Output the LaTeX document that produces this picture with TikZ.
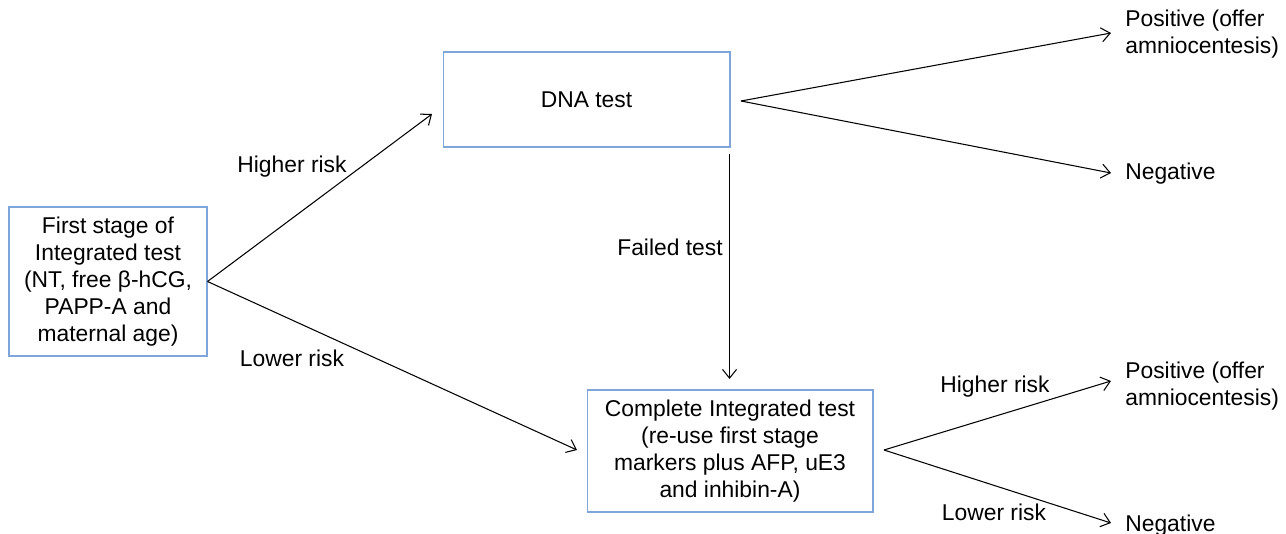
\documentclass[tikz,border=0pt]{standalone}
\usepackage{fontspec}
\setmainfont{Liberation Sans}
\usepackage{xcolor}
\usepackage{tikz}
\usetikzlibrary{arrows.meta}
\definecolor{boxblue}{HTML}{7EA6D8}
\tikzstyle{stagebox} = [draw=boxblue,line width=0.6pt,align=center,inner sep=0pt]
\tikzstyle{arrow} = [line width=0.6pt,-{Straight Barb[length=5pt,width=8pt]}]
\tikzstyle{lbl} = [align=center,inner sep=1pt]
\tikzstyle{outcome} = [align=left,anchor=west,inner sep=0pt]

\begin{document}
\begin{tikzpicture}[
            x=0.02cm, y=-0.02cm,
            font=\fontsize{13}{15.4}\selectfont
        ]
            \useasboundingbox (0,0) rectangle (1286,534);

            % boxes
            \node[stagebox, minimum width=3.96cm, minimum height=2.98cm] (first) at (108,281.5)
                {First stage of\\Integrated test\\(NT, free β-hCG,\\PAPP-A and\\maternal age)};
            \node[stagebox, minimum width=5.74cm, minimum height=1.9cm] (dna) at (586.5,99.5) {DNA test};
            \node[stagebox, minimum width=5.72cm, minimum height=2.44cm] (complete) at (730,451)
                {Complete Integrated test\\(re-use first stage\\markers plus AFP, uE3\\and inhibin-A)};

            % outcomes
            \node[outcome] (pos1) at (1125,34) {Positive (offer\\amniocentesis)};
            \node[outcome] (neg1) at (1125,174) {Negative};
            \node[outcome] (pos2) at (1125,386) {Positive (offer\\amniocentesis)};
            \node[outcome] (neg2) at (1125,526) {Negative};

            % arrow ends
            \coordinate (dnain) at (432,114);
            \coordinate (compin) at (577,450);
            \coordinate (dnafork) at (741,101);
            \coordinate (compfork) at (884,450);
            \coordinate (failtop) at (729.5,154);
            \coordinate (failend) at (729.5,379);
            \coordinate (pos1tip) at (1111,33);
            \coordinate (neg1tip) at (1111,173);
            \coordinate (pos2tip) at (1111,381);
            \coordinate (neg2tip) at (1111,523);

            \draw[arrow] (first.east) -- (dnain);
            \draw[arrow] (first.east) -- (compin);
            \draw[arrow] (dnafork) -- (pos1tip);
            \draw[arrow] (dnafork) -- (neg1tip);
            \draw[arrow] (failtop) -- (failend);
            \draw[arrow] (compfork) -- (pos2tip);
            \draw[arrow] (compfork) -- (neg2tip);

            % labels
            \node[lbl] (hr1) at (292,167) {Higher risk};
            \node[lbl] (lr1) at (292,358) {Lower risk};
            \node[lbl] (ft) at (670,247) {Failed test};
            \node[lbl] (hr2) at (995,387) {Higher risk};
            \node[lbl] (lr2) at (994,512) {Lower risk};
        \end{tikzpicture}
\end{document}
